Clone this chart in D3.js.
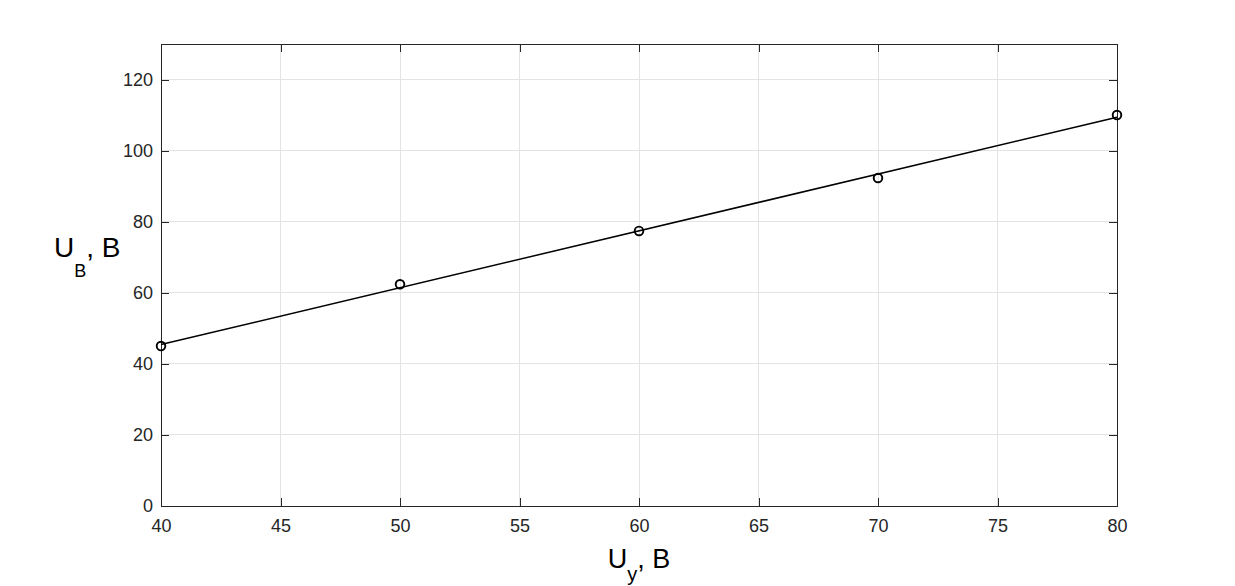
<!DOCTYPE html>
<html><head><meta charset="utf-8">
<script src="https://cdn.jsdelivr.net/npm/d3@7"></script>
<style>body{margin:0;background:#fff}svg{display:block}text{font-family:"Liberation Sans",Arial,sans-serif}</style>
</head><body>
<svg id="c" width="1235" height="586"></svg>
<script>
const xValues = [40, 50, 60, 70, 80];
const yValues = [45.0, 62.4, 77.4, 92.3, 110.0];
const xTicks = [40, 45, 50, 55, 60, 65, 70, 75, 80];
const yTicks = [0, 20, 40, 60, 80, 100, 120];
const xDomain = [40, 80];
const yDomain = [0, 130];

const svg = d3.select("#c");
const L = 161, R = 1117, T = 44, B = 506;
const x = d3.scaleLinear().domain(xDomain).range([L, R]);
const y = d3.scaleLinear().domain(yDomain).range([B, T]);
const axCol = "#262626";

// grid
const g = svg.append("g");
g.selectAll(".gx").data(xTicks).join("line")
  .attr("x1", d => x(d)).attr("x2", d => x(d)).attr("y1", T).attr("y2", B)
  .attr("stroke", "#e3e3e3").attr("stroke-width", 1).attr("shape-rendering", "crispEdges");
g.selectAll(".gy").data(yTicks).join("line")
  .attr("y1", d => y(d)).attr("y2", d => y(d)).attr("x1", L).attr("x2", R)
  .attr("stroke", "#e3e3e3").attr("stroke-width", 1).attr("shape-rendering", "crispEdges");

// axes
const xAxis = svg.append("g").attr("transform", `translate(0,${B})`)
  .call(d3.axisBottom(x).tickValues(xTicks).tickSizeInner(-8).tickSizeOuter(0).tickPadding(13));
const xAxisTop = svg.append("g").attr("transform", `translate(0,${T})`)
  .call(d3.axisTop(x).tickValues(xTicks).tickSizeInner(-8).tickSizeOuter(0).tickFormat(""));
const yAxis = svg.append("g").attr("transform", `translate(${L},0)`)
  .call(d3.axisLeft(y).tickValues(yTicks).tickSizeInner(-8).tickSizeOuter(0).tickPadding(8));
const yAxisR = svg.append("g").attr("transform", `translate(${R},0)`)
  .call(d3.axisRight(y).tickValues(yTicks).tickSizeInner(-8).tickSizeOuter(0).tickFormat(""));
[xAxis, xAxisTop, yAxis, yAxisR].forEach(a => {
  a.attr("font-size", null);
  a.selectAll("path").attr("stroke", axCol).attr("shape-rendering", "crispEdges");
  a.selectAll("line").attr("stroke", axCol).attr("shape-rendering", "crispEdges");
  a.selectAll("text").attr("fill", axCol).style("font-size", "18px");
});

// least-squares fit line
const n = xValues.length;
const mx = d3.mean(xValues), my = d3.mean(yValues);
let sxy = 0, sxx = 0;
for (let i = 0; i < n; i++) { sxy += (xValues[i]-mx)*(yValues[i]-my); sxx += (xValues[i]-mx)**2; }
const k = sxy / sxx, b0 = my - k*mx;
const fit = xDomain.map(v => [v, k*v + b0]);
svg.append("path").datum(fit)
  .attr("d", d3.line().x(d => x(d[0])).y(d => y(d[1])))
  .attr("fill", "none").attr("stroke", "#000").attr("stroke-width", 1.5);

// markers
svg.selectAll(".pt").data(xValues.map((v, i) => [v, yValues[i]])).join("circle")
  .attr("cx", d => x(d[0])).attr("cy", d => y(d[1])).attr("r", 4.3)
  .attr("fill", "none").attr("stroke", "#000").attr("stroke-width", 1.9);

// labels
const yl = svg.append("text").attr("x", 54).attr("y", 257).attr("fill", "#000").style("font-size", "28px");
yl.append("tspan").text("U");
yl.append("tspan").attr("dy", 20).style("font-size", "18px").text("В");
yl.append("tspan").attr("dy", -20).text(", В");

const xl = svg.append("text").attr("x", 639).attr("y", 568).attr("text-anchor", "middle")
  .attr("fill", "#000").style("font-size", "27px");
xl.append("tspan").text("U");
xl.append("tspan").attr("dy", 13).style("font-size", "20px").text("у");
xl.append("tspan").attr("dy", -13).text(", В");
</script>
</body></html>
